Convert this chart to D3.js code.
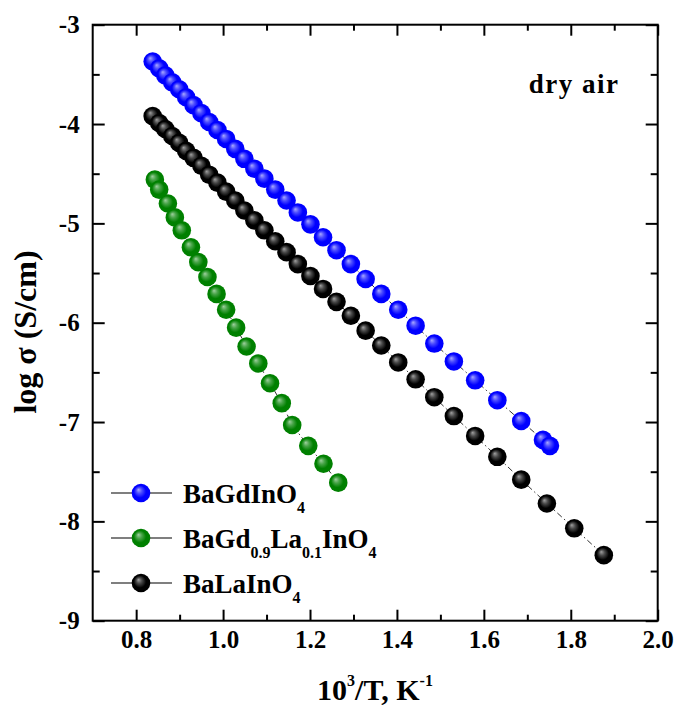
<!DOCTYPE html>
<html>
<head>
<meta charset="utf-8">
<script src="https://cdn.jsdelivr.net/npm/d3@7"></script>
<style>
  body { margin: 0; background: #fff; }
  svg { display: block; font-family: "Liberation Serif", "Times New Roman", serif; font-weight: bold; }
</style>
</head>
<body>
<svg id="chart" width="675" height="713"></svg>
<script>
// 10^3/T values (same temperature grid for all samples)
const xBaGd = [0.838, 0.853, 0.867, 0.883, 0.899, 0.915, 0.932, 0.950, 0.968, 0.987, 1.007, 1.028,
  1.049, 1.072, 1.095, 1.120, 1.146, 1.172, 1.201, 1.230, 1.261, 1.294, 1.328, 1.364, 1.403, 1.443,
  1.486, 1.531, 1.580, 1.631, 1.686, 1.736, 1.752];
const yBaGd = [-3.37, -3.44, -3.51, -3.58, -3.65, -3.73, -3.81, -3.89, -3.98, -4.06, -4.15, -4.25,
  -4.35, -4.45, -4.55, -4.66, -4.77, -4.89, -5.01, -5.14, -5.27, -5.41, -5.56, -5.71, -5.87, -6.03,
  -6.21, -6.39, -6.58, -6.78, -6.99, -7.18, -7.24];

const xBaGdLa = [0.843, 0.853, 0.873, 0.889, 0.905, 0.926, 0.943, 0.964, 0.985, 1.007, 1.030, 1.054,
  1.081, 1.108, 1.135, 1.159, 1.196, 1.231, 1.265];
const yBaGdLa = [-4.56, -4.66, -4.80, -4.94, -5.07, -5.24, -5.39, -5.54, -5.71, -5.87, -6.05, -6.24,
  -6.41, -6.61, -6.81, -7.03, -7.24, -7.42, -7.61];

const xBaLa = [0.838, 0.853, 0.867, 0.883, 0.899, 0.915, 0.932, 0.950, 0.968, 0.987, 1.007, 1.028,
  1.049, 1.072, 1.095, 1.120, 1.146, 1.172, 1.201, 1.230, 1.261, 1.294, 1.328, 1.364, 1.403, 1.443,
  1.486, 1.531, 1.580, 1.631, 1.686, 1.745, 1.808, 1.876];
const yBaLa = [-3.92, -3.99, -4.05, -4.12, -4.19, -4.27, -4.34, -4.42, -4.51, -4.59, -4.68, -4.77,
  -4.87, -4.97, -5.07, -5.18, -5.29, -5.41, -5.53, -5.66, -5.79, -5.93, -6.08, -6.23, -6.40, -6.57,
  -6.75, -6.94, -7.14, -7.35, -7.58, -7.82, -8.07, -8.34];

const xMajor = [0.8, 1.0, 1.2, 1.4, 1.6, 1.8, 2.0];
const xMinor = [0.9, 1.1, 1.3, 1.5, 1.7, 1.9];
const yMajor = [-9, -8, -7, -6, -5, -4, -3];
const yMinor = [-8.5, -7.5, -6.5, -5.5, -4.5, -3.5];

const series = [
  {key: 'gd',   x: xBaGd,   y: yBaGd,   base: '#0000ff', light: '#a8a8ff',
   label: [['BaGdInO', 0], ['4', 1]]},
  {key: 'gdla', x: xBaGdLa, y: yBaGdLa, base: '#008000', light: '#9fd09f',
   label: [['BaGd', 0], ['0.9', 1], ['La', 0], ['0.1', 1], ['InO', 0], ['4', 1]]},
  {key: 'la',   x: xBaLa,   y: yBaLa,   base: '#000000', light: '#a0a0a0',
   label: [['BaLaInO', 0], ['4', 1]]}
];

const W = 675, H = 713;
const m = {left: 92.7, right: W - 657.7, top: 24.7, bottom: H - 620.7};

const svg = d3.select('#chart');
const x = d3.scaleLinear().domain([0.7, 2.0]).range([m.left, W - m.right]);
const y = d3.scaleLinear().domain([-9, -3]).range([H - m.bottom, m.top]);

const defs = svg.append('defs');
series.forEach(s => {
  const g = defs.append('radialGradient')
    .attr('id', 'ball-' + s.key)
    .attr('cx', '50%').attr('cy', '50%').attr('r', '55%')
    .attr('fx', '36%').attr('fy', '32%');
  g.append('stop').attr('offset', '0%').attr('stop-color', s.light);
  g.append('stop').attr('offset', '28%').attr('stop-color', d3.interpolateRgb(s.light, s.base)(0.55));
  g.append('stop').attr('offset', '60%').attr('stop-color', s.base);
  g.append('stop').attr('offset', '100%').attr('stop-color', s.base);
});

// axes
function styleAxis(g) {
  g.selectAll('.domain').remove();
  g.selectAll('.tick line').attr('stroke', '#000').attr('stroke-width', 2);
  g.selectAll('.tick text').attr('fill', '#000')
    .style('font-family', '"Liberation Serif", serif').style('font-weight', 'bold')
    .style('font-size', '25px');
}
const fmtX = d3.format('.1f');
const fmtY = d => d < 0 ? '-' + Math.abs(d) : d;

svg.append('g').attr('transform', `translate(0,${H - m.bottom})`)
  .call(d3.axisBottom(x).tickValues(xMajor).tickFormat(fmtX).tickSizeInner(-11).tickSizeOuter(0).tickPadding(10))
  .call(styleAxis);
svg.append('g').attr('transform', `translate(0,${H - m.bottom})`)
  .call(d3.axisBottom(x).tickValues(xMinor).tickFormat('').tickSizeInner(-6).tickSizeOuter(0))
  .call(styleAxis);
svg.append('g').attr('transform', `translate(0,${m.top})`)
  .call(d3.axisTop(x).tickValues(xMajor).tickFormat('').tickSizeInner(-11).tickSizeOuter(0))
  .call(styleAxis);
svg.append('g').attr('transform', `translate(0,${m.top})`)
  .call(d3.axisTop(x).tickValues(xMinor).tickFormat('').tickSizeInner(-6).tickSizeOuter(0))
  .call(styleAxis);
svg.append('g').attr('transform', `translate(${m.left},0)`)
  .call(d3.axisLeft(y).tickValues(yMajor).tickFormat(fmtY).tickSizeInner(-12).tickSizeOuter(0).tickPadding(13))
  .call(styleAxis);
svg.append('g').attr('transform', `translate(${m.left},0)`)
  .call(d3.axisLeft(y).tickValues(yMinor).tickFormat('').tickSizeInner(-7).tickSizeOuter(0))
  .call(styleAxis);
svg.append('g').attr('transform', `translate(${W - m.right},0)`)
  .call(d3.axisRight(y).tickValues(yMajor).tickFormat('').tickSizeInner(-12).tickSizeOuter(0))
  .call(styleAxis);
svg.append('g').attr('transform', `translate(${W - m.right},0)`)
  .call(d3.axisRight(y).tickValues(yMinor).tickFormat('').tickSizeInner(-7).tickSizeOuter(0))
  .call(styleAxis);

svg.append('rect')
  .attr('x', m.left).attr('y', m.top)
  .attr('width', W - m.left - m.right).attr('height', H - m.top - m.bottom)
  .attr('fill', 'none').attr('stroke', '#000').attr('stroke-width', 2);

// series lines + balls
const line = d3.line().x(d => x(d[0])).y(d => y(d[1]));
series.forEach(s => {
  const pts = s.x.map((v, i) => [v, s.y[i]]);
  svg.append('path').datum(pts)
    .attr('d', line)
    .attr('fill', 'none').attr('stroke', '#333').attr('stroke-width', 1)
    .attr('stroke-dasharray', '6,3,1.5,3');
  svg.append('g').selectAll('circle').data(pts).join('circle')
    .attr('cx', d => x(d[0])).attr('cy', d => y(d[1])).attr('r', 9.3)
    .attr('fill', `url(#ball-${s.key})`);
});

// legend
const legend = svg.append('g');
const rowY = [493, 538, 583];
series.forEach((s, i) => {
  const r = legend.append('g').attr('transform', `translate(0,${rowY[i]})`);
  r.append('line').attr('x1', 111).attr('x2', 172).attr('y1', 0).attr('y2', 0)
    .attr('stroke', '#000').attr('stroke-width', 1.2);
  r.append('circle').attr('cx', 141).attr('cy', 0).attr('r', 9.3).attr('fill', `url(#ball-${s.key})`);
  const t = r.append('text').attr('x', 183).attr('y', 10).style('font-size', '27px');
  let shifted = false;
  s.label.forEach(([txt, sub]) => {
    const ts = t.append('tspan').text(txt);
    if (sub) { ts.style('font-size', '16px').attr('dy', shifted ? 0 : 10); shifted = true; }
    else { ts.attr('dy', shifted ? -10 : 0); shifted = false; }
  });
});

// annotation
svg.append('text').attr('x', 574).attr('y', 93).attr('text-anchor', 'middle')
  .style('font-size', '27px').style('letter-spacing', '1.5px').text('dry air');

// axis titles
const xt = svg.append('text').attr('x', 375).attr('y', 700).attr('text-anchor', 'middle')
  .style('font-size', '30px');
xt.append('tspan').text('10');
xt.append('tspan').text('3').style('font-size', '16px').attr('dy', -14);
xt.append('tspan').text('/T, K').attr('dy', 14);
xt.append('tspan').text('-1').style('font-size', '16px').attr('dy', -14);

svg.append('text').attr('transform', 'translate(36,332) rotate(-90)')
  .attr('text-anchor', 'middle').style('font-size', '32px').text('log σ (S/cm)');
</script>
</body>
</html>
